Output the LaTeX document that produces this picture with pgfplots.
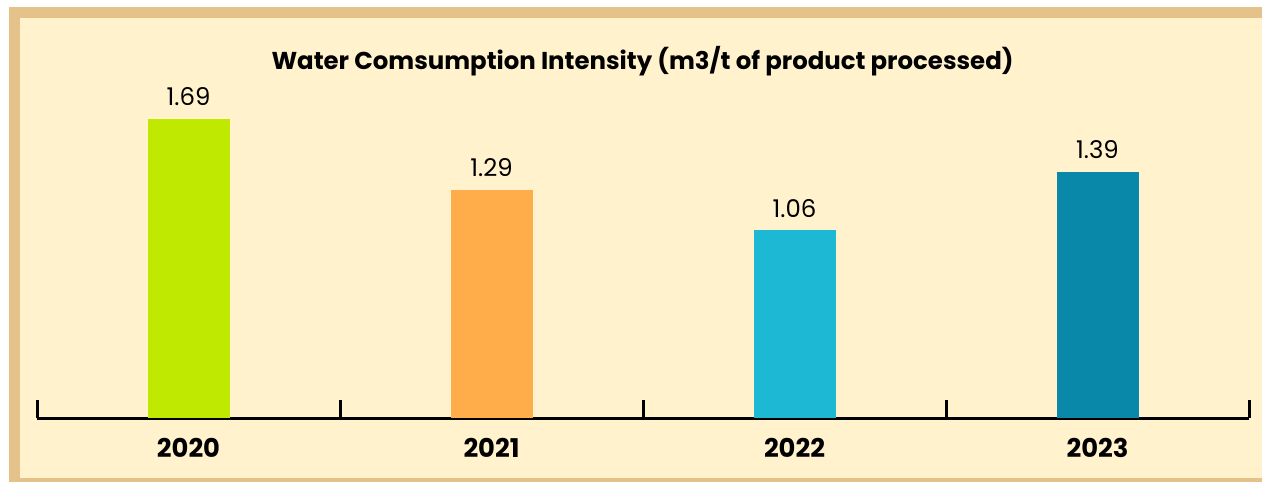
\documentclass[border=0pt]{standalone}
\usepackage{pgfplots}
\pgfplotsset{compat=1.18}
\usepackage{fontspec}
\setmainfont{Poppins}
\definecolor{tanb}{HTML}{E5C28A}
\definecolor{cream}{HTML}{FFF2CC}
\definecolor{cgreen}{HTML}{BFE900}
\definecolor{corange}{HTML}{FFAD4B}
\definecolor{ccyan}{HTML}{1DB8D3}
\definecolor{cteal}{HTML}{0A88AA}
\begin{document}
\begin{tikzpicture}[x=1pt,y=1pt]
\fill[white] (0,0) rectangle (631,241);
\fill[tanb] (4.5,0) rectangle (631,237.5);
\fill[cream] (10,2) rectangle (631,232);
\node[anchor=base, inner sep=0pt, font=\fontsize{12.2}{14}\selectfont\bfseries] at (321.25,206) {Water Comsumption Intensity (m3/t of product processed)};
\begin{axis}[
  at={(18.5pt,32pt)}, anchor=south west,
  scale only axis, width=606pt, height=200pt,
  xmin=-0.5, xmax=3.5, ymin=0, ymax=2.26,
  clip=false,
  axis x line*=bottom, axis y line=none, ytick=\empty,
  axis line style={line width=1.5pt, black},
  xtick={0,1,2,3}, xticklabels={2020,2021,2022,2023},
  minor xtick={-0.5,0.5,1.5,2.5,3.5},
  major tick length=0pt, minor tick length=9pt,
  tick align=inside,
  minor tick style={line width=1.5pt, black},
  xticklabel style={anchor=base, yshift=-19.5pt, inner sep=0pt, font=\fontsize{12.9}{15}\selectfont\bfseries},
  bar width=41pt,
  nodes near coords,
  point meta=explicit symbolic,
  nodes near coords style={anchor=base, yshift=6.5pt, inner sep=0pt, font=\fontsize{12.2}{14}\selectfont, black},
]
\addplot[ybar, fill=cgreen, draw=none] coordinates {(0,1.69) [1.69]};
\addplot[ybar, fill=corange, draw=none] coordinates {(1,1.29) [1.29]};
\addplot[ybar, fill=ccyan, draw=none] coordinates {(2,1.06) [1.06]};
\addplot[ybar, fill=cteal, draw=none] coordinates {(3,1.39) [1.39]};
\end{axis}
\end{tikzpicture}
\end{document}
